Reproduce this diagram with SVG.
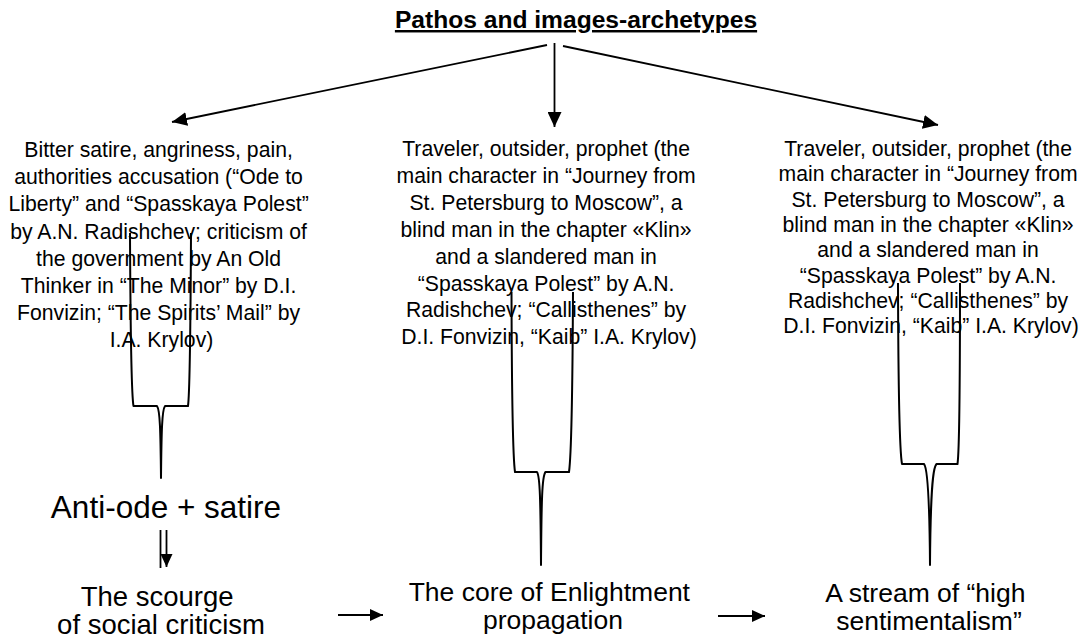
<svg xmlns="http://www.w3.org/2000/svg" width="1085" height="640" viewBox="0 0 1085 640">
<style>
.t{font-family:"Liberation Sans",Arial,sans-serif;fill:#000;text-anchor:middle}
.body{font-size:21.2px}
.big{font-size:26.5px}
.conn{stroke:#000;stroke-width:1.8;fill:none}
.brace{stroke:#000;stroke-width:2;fill:none;stroke-linejoin:round}
</style>
<defs>
<marker id="ah" markerUnits="userSpaceOnUse" markerWidth="15" markerHeight="14" refX="15" refY="7" orient="auto">
<path d="M0,0 L15,7 L0,14 z" fill="#000"/>
</marker>
<marker id="ahs" markerUnits="userSpaceOnUse" markerWidth="13" markerHeight="12" refX="13" refY="6" orient="auto">
<path d="M0,0 L13,6 L0,12 z" fill="#000"/>
</marker>
</defs>
<rect width="1085" height="640" fill="#fff"/>

<g id="title">
<text class="t" x="576" y="28" style="font-size:24.6px;font-weight:bold;text-decoration:underline">Pathos and images-archetypes</text>
</g>

<g id="node-left">
<text class="t body" x="161.5">
<tspan x="161.5" y="157">Bitter satire, angriness, pain,</tspan>
<tspan x="161.5" y="184.2">authorities accusation (“Ode to</tspan>
<tspan x="161.5" y="211.4">Liberty” and “Spasskaya Polest”</tspan>
<tspan x="161.5" y="238.6">by A.N. Radishchev; criticism of</tspan>
<tspan x="161.5" y="265.8">the government by An Old</tspan>
<tspan x="161.5" y="293">Thinker in “The Minor” by D.I.</tspan>
<tspan x="161.5" y="320.2">Fonvizin; “The Spirits’ Mail” by</tspan>
<tspan x="161.5" y="347.4">I.A. Krylov)</tspan>
</text>
</g>

<g id="node-center">
<text class="t body" x="549">
<tspan x="549" y="156">Traveler, outsider, prophet (the</tspan>
<tspan x="549" y="182.9">main character in “Journey from</tspan>
<tspan x="549" y="209.8">St. Petersburg to Moscow”, a</tspan>
<tspan x="549" y="236.7">blind man in the chapter «Klin»</tspan>
<tspan x="549" y="263.6">and a slandered man in</tspan>
<tspan x="549" y="290.5">“Spasskaya Polest” by A.N.</tspan>
<tspan x="549" y="317.4">Radishchev; “Callisthenes” by</tspan>
<tspan x="549" y="344.3">D.I. Fonvizin, “Kaib” I.A. Krylov)</tspan>
</text>
</g>

<g id="node-right">
<text class="t body" x="931">
<tspan x="931" y="156">Traveler, outsider, prophet (the</tspan>
<tspan x="931" y="181.3">main character in “Journey from</tspan>
<tspan x="931" y="206.6">St. Petersburg to Moscow”, a</tspan>
<tspan x="931" y="231.9">blind man in the chapter «Klin»</tspan>
<tspan x="931" y="257.2">and a slandered man in</tspan>
<tspan x="931" y="282.5">“Spasskaya Polest” by A.N.</tspan>
<tspan x="931" y="307.8">Radishchev; “Callisthenes” by</tspan>
<tspan x="931" y="333.1">D.I. Fonvizin, “Kaib” I.A. Krylov)</tspan>
</text>
</g>

<g id="node-antiode">
<text class="t" x="166" y="518" style="font-size:31.5px">Anti-ode + satire</text>
</g>

<g id="node-scourge">
<text class="t" x="161" style="font-size:27.5px">
<tspan x="161" y="606">The scourge</tspan>
<tspan x="161" y="634">of social criticism</tspan>
</text>
</g>

<g id="node-core">
<text class="t big" x="553">
<tspan x="553" y="601">The core of Enlightment</tspan>
<tspan x="553" y="629">propagation</tspan>
</text>
</g>

<g id="node-stream">
<text class="t big" x="929">
<tspan x="929" y="602">A stream of “high</tspan>
<tspan x="929" y="630">sentimentalism”</tspan>
</text>
</g>

<g id="connectors">
<line class="conn" x1="547" y1="45" x2="172" y2="122" marker-end="url(#ah)"/>
<line class="conn" x1="554.5" y1="43" x2="554.5" y2="127" marker-end="url(#ah)"/>
<line class="conn" x1="563" y1="46" x2="938" y2="125" marker-end="url(#ah)"/>

<path class="brace" d="M130,233 C130.5,340 131.5,395 133.5,406 L157,406 C160,410 160.5,430 161,478 C161.5,430 162,410 165,406 L188,406 C189.5,395 190.5,340 191,233"/>
<path class="brace" d="M511.5,292 C511.8,400 513,458 515,472 L537,472 C540,476 540.5,500 541,565 C541.5,500 542,476 545.5,472 L569,472 C571,458 572.5,400 573,292"/>
<path class="brace" d="M898,283 C898.3,390 899.5,450 902,464 L924,464 C927.5,468 929.5,495 930,565 C930.5,495 932.5,468 936.5,464 L957.5,464 C959.5,450 960,390 960,283"/>

<line class="conn" x1="160.5" y1="530" x2="160.5" y2="568"/>
<line class="conn" x1="166.5" y1="530" x2="166.5" y2="567" marker-end="url(#ahs)"/>

<line class="conn" x1="338" y1="615" x2="383" y2="615" marker-end="url(#ahs)"/>
<line class="conn" x1="718" y1="616" x2="765" y2="616" marker-end="url(#ahs)"/>
</g>
</svg>
